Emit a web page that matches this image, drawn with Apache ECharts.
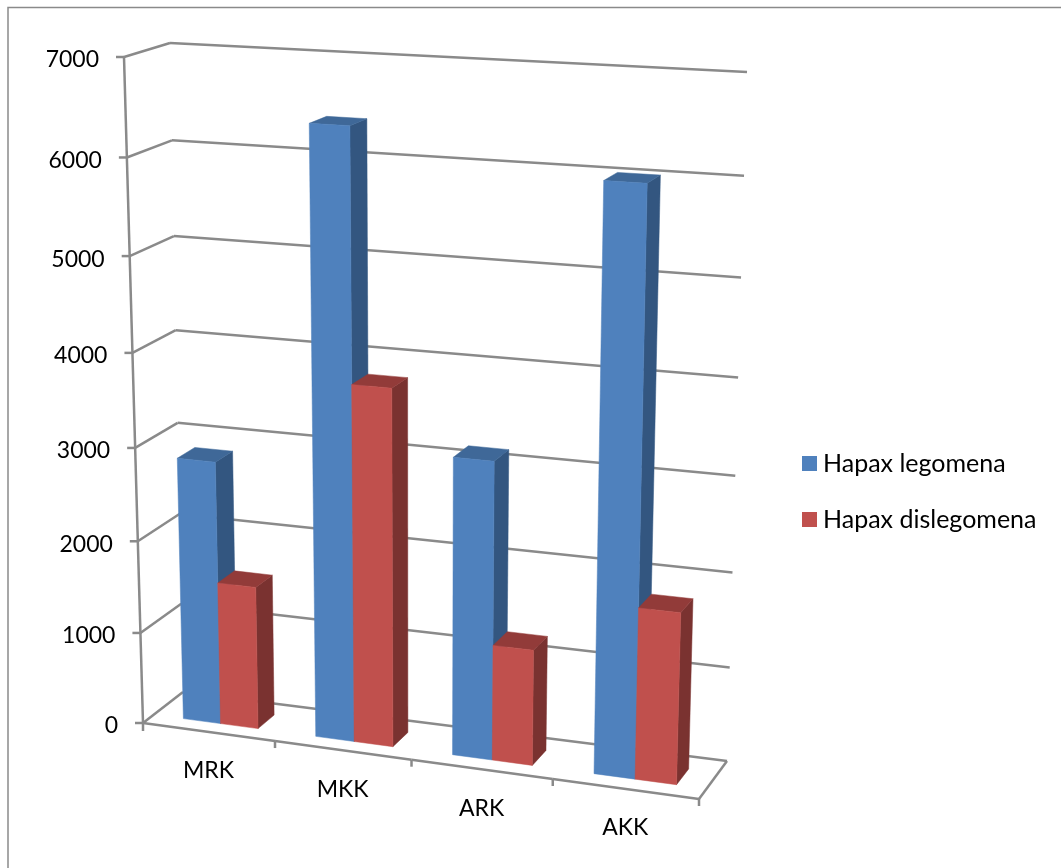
<!DOCTYPE html>
<html>
<head>
<meta charset="utf-8">
<title>Hapax</title>
<script src="https://cdn.jsdelivr.net/npm/echarts@6/dist/echarts.min.js"></script>
<style>
    html, body { margin: 0; padding: 0; background: #fff; }
    #chart { width: 1061px; height: 868px; }
</style>
</head>
<body>
<div id="chart"></div>
<script>
const categories = ['MRK', 'MKK', 'ARK', 'AKK'];
const legomena = [2850, 6400, 3150, 6020];
const dislegomena = [1550, 3800, 1230, 1800];
const valueTicks = [0, 1000, 2000, 3000, 4000, 5000, 6000, 7000];

const FONT = 'Lato, "Open Sans", sans-serif';
const LINE = '#8a8a8a';

// corners of the two planes of the 3d box: bottom left, bottom right, top right, top left
const frontQuad = [[143, 723], [699, 799], [718, 88], [124, 57]];
const backQuad = [[183, 692], [727, 761], [747, 72], [170, 43]];

// bar layout inside one category band, as fractions of the band / of the depth
const barStart = 0.228;
const barWidth = 0.284;
const barZ = [0.27, 0.69];

function quadMap(q) {
    const [p0, p1, p2, p3] = q;
    const dx1 = p1[0] - p2[0], dx2 = p3[0] - p2[0], sx = p0[0] - p1[0] + p2[0] - p3[0];
    const dy1 = p1[1] - p2[1], dy2 = p3[1] - p2[1], sy = p0[1] - p1[1] + p2[1] - p3[1];
    const den = dx1 * dy2 - dx2 * dy1;
    const g = (sx * dy2 - dx2 * sy) / den;
    const h = (dx1 * sy - sx * dy1) / den;
    const a = p1[0] - p0[0] + g * p1[0], b = p3[0] - p0[0] + h * p3[0], c = p0[0];
    const d = p1[1] - p0[1] + g * p1[1], e = p3[1] - p0[1] + h * p3[1], f = p0[1];
    return function (u, v) {
        const w = g * u + h * v + 1;
        return [(a * u + b * v + c) / w, (d * u + e * v + f) / w];
    };
}

const front = quadMap(frontQuad);
const back = quadMap(backQuad);

function project(u, v, z) {
    const p = front(u, v), q = back(u, v);
    return [p[0] + (q[0] - p[0]) * z, p[1] + (q[1] - p[1]) * z];
}

// grid position -> unit square of the box
function toUnit(params, pt) {
    const cs = params.coordSys;
    return [(pt[0] - cs.x) / cs.width, (cs.y + cs.height - pt[1]) / cs.height];
}

function face(points, color) {
    return {
        type: 'polygon',
        shape: { points: points },
        style: { fill: color, stroke: color, lineWidth: 0.5 }
    };
}

function line(a, b, width) {
    return {
        type: 'line',
        shape: { x1: a[0], y1: a[1], x2: b[0], y2: b[1] },
        style: { stroke: LINE, lineWidth: width || 2.5 }
    };
}

function barRender(slot, colors) {
    return function (params, api) {
        const band = api.size([1, 0])[0];
        const center = api.coord([api.value(0), 0]);
        const top = toUnit(params, api.coord([api.value(0), api.value(1)]));
        const bandU = band / params.coordSys.width;
        const base = toUnit(params, center);
        const u0 = base[0] + (barStart + barWidth * slot - 0.5) * bandU;
        const u1 = u0 + barWidth * bandU;
        const v = top[1];
        const z0 = barZ[0], z1 = barZ[1];
        return {
            type: 'group',
            children: [
                face([project(u1, 0, z0), project(u1, 0, z1), project(u1, v, z1), project(u1, v, z0)], colors[1]),
                face([project(u0, v, z0), project(u1, v, z0), project(u1, v, z1), project(u0, v, z1)], colors[2]),
                face([project(u0, 0, z0), project(u1, 0, z0), project(u1, v, z0), project(u0, v, z0)], colors[0])
            ]
        };
    };
}

function gridRender(params, api) {
    const value = api.value(1);
    const v = toUnit(params, api.coord([0, value]))[1];
    const a = project(0, v, 0);
    const b = project(0, v, 1);
    const c = project(1, v, 1);
    const children = [
        line([a[0] - 8, a[1]], a),
        line(a, b),
        line(b, c),
        {
            type: 'text',
            x: a[0] - 25,
            y: a[1] + 3,
            style: { text: String(value), font: '23px ' + FONT, fill: '#000', align: 'right', verticalAlign: 'middle' }
        }
    ];
    return { type: 'group', children: children };
}

function floorRender(params, api) {
    const i = api.value(0);
    const cs = params.coordSys;
    const band = api.size([1, 0])[0] / cs.width;
    const mid = toUnit(params, api.coord([i, 0]))[0];
    const left = front(mid - band / 2, 0);
    const right = front(mid + band / 2, 0);
    const p = front(mid, 0);
    const children = [
        line(left, right),
        line(right, [right[0], right[1] + 7]),
        {
            type: 'text',
            x: p[0],
            y: p[1] + 39,
            style: { text: categories[i], font: '23px ' + FONT, fill: '#000', align: 'center', verticalAlign: 'middle' }
        }
    ];
    if (i === 0) children.push(line(left, [left[0], left[1] + 8]));
    if (i === categories.length - 1) children.push(line(right, back(1, 0)));
    return { type: 'group', children: children };
}

function axisRender(params, api) {
    return line(front(0, 0), front(0, 1));
}

const chart = echarts.init(document.getElementById('chart'));
chart.setOption({
    backgroundColor: '#fff',
    animation: false,
    graphic: [{
        type: 'polyline',
        silent: true,
        shape: { points: [[8, 868], [8, 7.5], [1061, 7.5]] },
        style: { stroke: LINE, lineWidth: 1.5, fill: 'none' }
    }],
    legend: {
        data: ['Hapax legomena', 'Hapax dislegomena'],
        orient: 'vertical',
        left: 797,
        top: 446,
        itemWidth: 15,
        itemHeight: 15,
        itemGap: 31,
        icon: 'rect',
        selectedMode: false,
        textStyle: { fontFamily: 'Lato, "Open Sans", sans-serif', fontSize: 25, color: '#000', padding: [0, 0, 0, 1] }
    },
    grid: { left: 100, top: 100, width: 700, height: 600 },
    xAxis: { type: 'category', data: categories, show: false },
    yAxis: { type: 'value', min: 0, max: 7000, interval: 1000, show: false },
    series: [
        {
            type: 'custom',
            name: 'grid',
            silent: true,
            clip: false,
            z: 1,
            renderItem: gridRender,
            data: valueTicks.map((v) => [0, v])
        },
        {
            type: 'custom',
            name: 'floor',
            silent: true,
            clip: false,
            z: 1,
            renderItem: floorRender,
            data: categories.map((c, i) => [i, 0])
        },
        {
            type: 'custom',
            name: 'axis',
            silent: true,
            clip: false,
            z: 1,
            renderItem: axisRender,
            data: [[0, 0]]
        },
        {
            type: 'custom',
            name: 'Hapax legomena',
            silent: true,
            clip: false,
            z: 2,
            itemStyle: { color: '#4F81BD' },
            renderItem: barRender(0, ['#4F81BD', '#335680', '#3F6898']),
            data: legomena.map((v, i) => [i, v])
        },
        {
            type: 'custom',
            name: 'Hapax dislegomena',
            silent: true,
            clip: false,
            z: 3,
            itemStyle: { color: '#C0504D' },
            renderItem: barRender(1, ['#C0504D', '#7A3230', '#923B39']),
            data: dislegomena.map((v, i) => [i, v])
        }
    ]
});
</script>
</body>
</html>
